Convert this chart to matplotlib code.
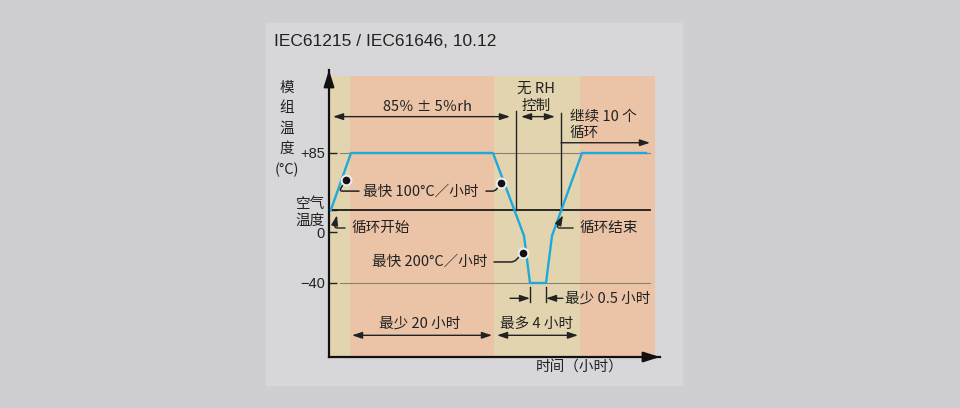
import numpy as np
import matplotlib
matplotlib.use('Agg')
import matplotlib.pyplot as plt
from matplotlib.patches import Rectangle

plt.rcParams['font.family'] = ['Noto Sans CJK SC', 'DejaVu Sans']

# phases of the cycle along the (schematic) time axis
phase_edges = [0, 21, 165, 251, 326]
phase_colors = ['#e3d4b0', '#ebc4a7', '#e3d4b0', '#ebc4a7']

# module temperature profile (time in schematic units, temperature in degC)
cycle_time = [2, 22, 164, 195, 201, 217, 223, 253, 317]
cycle_temp = [24, 85, 85, -3, -40, -40, -3, 85, 85]

air_temp = 24
ytick_pos = [85, air_temp, 0, -40]
ytick_labels = ['+85', '空气\n温度', '0', '−40']

# the drawing is not to scale: piecewise linear temperature axis
t_breaks = [-200, -98, -40, 0, 85, 174, 300]
h_breaks = [-130, 0, 74, 125, 204, 287, 405]

def fwd(t):
    return np.interp(t, t_breaks, h_breaks)

def inv(h):
    return np.interp(h, h_breaks, t_breaks)

fig = plt.figure(figsize=(9.6, 4.08), dpi=100, facecolor='#cfcfd3')
fig.patches.append(Rectangle((266/960, 23/408), 416/960, 362/408,
                             transform=fig.transFigure, color='#d7d7d9', zorder=-5))
fig.text(274/960, 1 - 41/408, 'IEC61215 / IEC61646, 10.12', fontsize=12.5,
         family='Liberation Sans', color='#222222', va='center', ha='left')

ax = fig.add_axes([329/960, 51/408, 331/960, 287/408])
ax.set_zorder(2)
ax.set_facecolor('none')
ax.set_yscale('function', functions=(fwd, inv))
ax.set_xlim(0, 331)
ax.set_ylim(-98, 174)

for x0, x1, c in zip(phase_edges[:-1], phase_edges[1:], phase_colors):
    ax.fill_between([x0, x1], -98, 168, color=c, lw=0, zorder=0)

ax.plot([11, 321], [85, 85], color='#8c7f70', lw=0.8, zorder=1)
ax.plot([11, 321], [-40, -40], color='#8c7f70', lw=0.8, zorder=1)
ax.plot([2, 321], [air_temp, air_temp], color='#1a1a1a', lw=1.3, zorder=2)

ax.plot(cycle_time, cycle_temp, color='#1ea9dc', lw=1.7, zorder=3)

# axes
for s in ['top', 'right']:
    ax.spines[s].set_visible(False)
for s in ['left', 'bottom']:
    ax.spines[s].set_linewidth(1.6)
    ax.spines[s].set_color('#111111')
ax.annotate('', xy=(0, 1.0), xytext=(0, 0.95), xycoords='axes fraction',
            arrowprops=dict(arrowstyle='-|>,head_length=0.7,head_width=0.22',
                            mutation_scale=14, color='#111111', lw=1.6, shrinkA=0, shrinkB=0),
            annotation_clip=False)
ax.annotate('', xy=(1.0, 0), xytext=(0.95, 0), xycoords='axes fraction',
            arrowprops=dict(arrowstyle='-|>,head_length=0.7,head_width=0.22',
                            mutation_scale=14, color='#111111', lw=1.6, shrinkA=0, shrinkB=0),
            annotation_clip=False)

ax.set_xticks([])
ax.set_yticks(ytick_pos)
ax.set_yticklabels(ytick_labels, fontsize=10.5,
                   family=['Liberation Sans', 'Noto Sans CJK SC'])
ax.tick_params(axis='y', direction='in', length=6, width=1, pad=3, colors='#222222')
ax.yaxis.set_minor_locator(matplotlib.ticker.NullLocator())

ax.text(-0.127, 0.962, '模\n组\n温\n度\n(°C)', transform=ax.transAxes,
        ha='center', va='top', fontsize=10.5, linespacing=1.58, color='#222222')
ax.text(251, -106, '时间（小时）', ha='center', va='center', fontsize=10.5, color='#222222')

txt = dict(fontsize=10.5, color='#222222', va='center')
dbl = dict(arrowstyle='<|-|>,head_length=0.6,head_width=0.2', mutation_scale=10,
           color='#222222', lw=1, shrinkA=0, shrinkB=0)
one = dict(arrowstyle='-|>,head_length=0.6,head_width=0.2', mutation_scale=10,
           color='#222222', lw=1, shrinkA=0, shrinkB=0)

# top annotations
ax.text(98, 134, '85％ ± 5％rh', ha='center', **txt)
ax.annotate('', xy=(181, 124), xytext=(4, 124), arrowprops=dbl)
ax.plot([187, 187], [130, air_temp], color='#222222', lw=1)
ax.plot([232, 232], [128, air_temp], color='#222222', lw=1)
ax.text(207, 145, '无 RH\n控制', ha='center', linespacing=1.3, **txt)
ax.annotate('', xy=(226, 124), xytext=(192, 124), arrowprops=dbl)
ax.text(241, 115, '继续 10 个\n循环', ha='left', linespacing=1.2, **txt)
ax.annotate('', xy=(321, 96), xytext=(232, 96), arrowprops=one)

# ramp rate notes
dots_x = [16.7, 171.7, 193.7]
dots_y = [56, 52.4, -16.7]
ax.plot(dots_x, dots_y, 'o', ms=7, mfc='#111111', mec='#ececec', mew=1.5, zorder=5)
ax.text(34, 43.5, '最快 100°C／小时', ha='left', **txt)
ax.text(43, -23.5, '最快 200°C／小时', ha='left', **txt)
lead = dict(arrowstyle='-', color='#222222', lw=1.1, shrinkA=0, shrinkB=3)
ax.annotate('', xy=(dots_x[0], dots_y[0]), xytext=(30, 44),
            arrowprops=dict(connectionstyle='angle,angleA=180,angleB=60,rad=3', **lead))
ax.annotate('', xy=(dots_x[1], dots_y[1]), xytext=(157, 44),
            arrowprops=dict(connectionstyle='angle,angleA=0,angleB=55,rad=3', **lead))
ax.annotate('', xy=(dots_x[2], dots_y[2]), xytext=(165, -23.5),
            arrowprops=dict(connectionstyle='angle,angleA=0,angleB=45,rad=3', **lead))

# start / end of cycle
ax.annotate('循环开始', xy=(8, 18), xytext=(23, 4.3), ha='left', va='center',
            fontsize=10.5, color='#222222',
            arrowprops=dict(arrowstyle='-|>,head_length=0.6,head_width=0.2', mutation_scale=10,
                            color='#222222', lw=1, shrinkA=3, shrinkB=0,
                            connectionstyle='angle,angleA=180,angleB=77,rad=3'))
ax.annotate('循环结束', xy=(234, 18), xytext=(251, 4.3), ha='left', va='center',
            fontsize=10.5, color='#222222',
            arrowprops=dict(arrowstyle='-|>,head_length=0.6,head_width=0.2', mutation_scale=10,
                            color='#222222', lw=1, shrinkA=3, shrinkB=0,
                            connectionstyle='angle,angleA=180,angleB=63,rad=3'))

# dwell at -40
ax.plot([201, 201], [-43, -55], color='#222222', lw=1)
ax.plot([216.7, 216.7], [-43, -55], color='#222222', lw=1)
ax.annotate('', xy=(201, -52), xytext=(181, -52), arrowprops=one)
ax.annotate('', xy=(217, -52), xytext=(234, -52), arrowprops=one)
ax.text(236, -52, '最少 0.5 小时', ha='left', **txt)

# phase durations
ax.text(91, -72, '最少 20 小时', ha='center', **txt)
ax.annotate('', xy=(163, -81), xytext=(23, -81), arrowprops=dbl)
ax.text(208, -72, '最多 4 小时', ha='center', **txt)
ax.annotate('', xy=(249, -81), xytext=(168, -81), arrowprops=dbl)

fig.savefig('out.png', dpi=100, facecolor=fig.get_facecolor())
